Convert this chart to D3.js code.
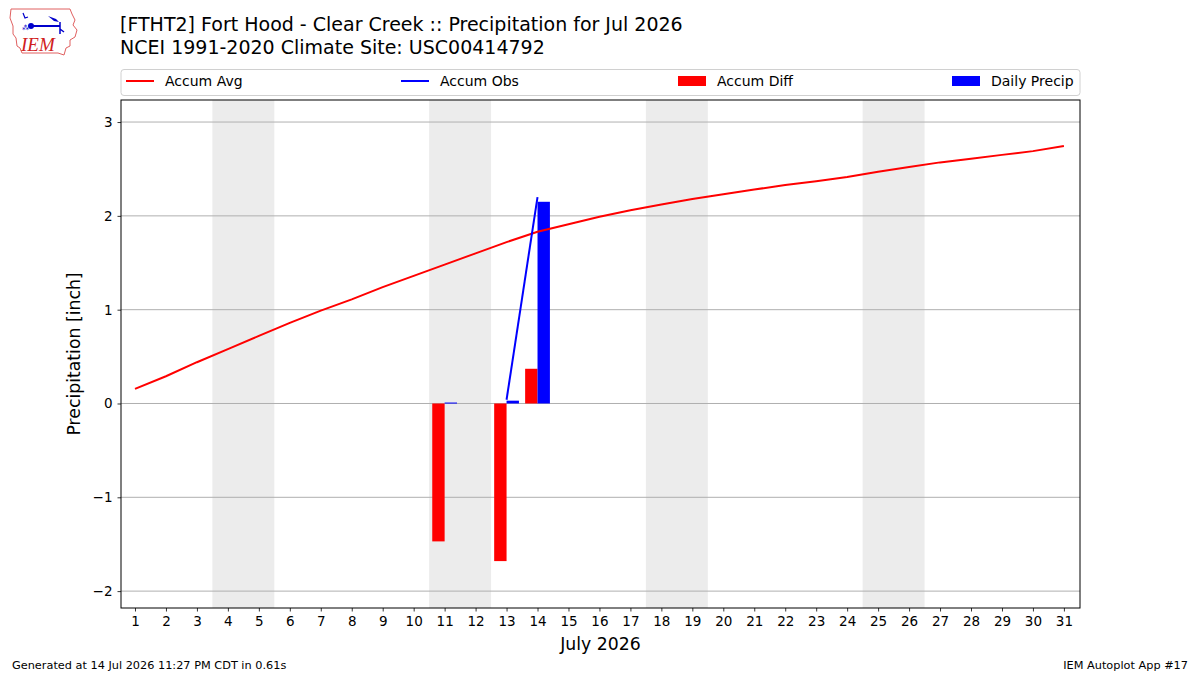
<!DOCTYPE html>
<html><head><meta charset="utf-8">
<script src="https://cdn.jsdelivr.net/npm/d3@7"></script>
<style>body{margin:0;background:#fff}svg{display:block;font-family:"DejaVu Sans",sans-serif}</style>
</head><body><svg id="c" width="1200" height="675"></svg>
<script>
const days = d3.range(1, 32);
const accumAvg = [0.155,0.29,0.44,0.58,0.72,0.86,0.99,1.11,1.24,1.36,1.48,1.60,1.72,1.83,1.91,1.99,2.06,2.12,2.18,2.23,2.28,2.33,2.37,2.415,2.47,2.52,2.57,2.61,2.65,2.69,2.745];
const obsDays = [11,12,13,14];
const accumObs = [0.01,null,0.04,2.20];
const diffDays = [11,13,14];
const accumDiff = [-1.47,-1.68,0.37];
const precipDays = [11,13,14];
const dailyPrecip = [0.01,0.03,2.15];
const weekends = [[3.5,5.5],[10.5,12.5],[17.5,19.5],[24.5,26.5]];
const yTicks = [-2,-1,0,1,2,3];
const legendItems = [
  {label:"Accum Avg", type:"line", color:"#ff0000", x:126},
  {label:"Accum Obs", type:"line", color:"#0000ff", x:401},
  {label:"Accum Diff", type:"rect", color:"#ff0000", x:678},
  {label:"Daily Precip", type:"rect", color:"#0000ff", x:952}
];

const svg = d3.select("#c");
const L=121,R=1080,T=100,B=608;
const x = d3.scaleLinear().domain([0.548,31.52]).range([L,R]);
const y = d3.scaleLinear().domain([-2.18,3.235]).range([B,T]);

// logo
const logo = svg.append("g");
logo.append("path").attr("d","M11,9 L70,9 L72,14 L75,20 L73,25 L77,30 L75,37 L70,40 L70,46 L66,48 L64,55 L58,53 L22,53 L20,48 L17,46 L16,38 L13,34 L13,26 L10,18 Z")
  .attr("fill","none").attr("stroke","#e06060").attr("stroke-width",1);
logo.append("line").attr("x1",31).attr("y1",26).attr("x2",60).attr("y2",26).attr("stroke","#0000cc").attr("stroke-width",2);
logo.append("circle").attr("cx",31).attr("cy",26).attr("r",3).attr("fill","#0000cc");
logo.append("path").attr("d","M48,16 L56,19 L59,22 L54,21 Z").attr("fill","#0000cc");
logo.append("path").attr("d","M60,22 L60,34 M60,29 L64,32").attr("stroke","#0000cc").attr("stroke-width",1.5).attr("fill","none");
logo.append("path").attr("d","M23,13 L25,18 L28,17").attr("stroke","#0000cc").attr("stroke-width",1.2).attr("fill","none");
logo.append("text").attr("x",22).attr("y",30).attr("font-size",7).attr("fill","#0000cc").text("⁂");
logo.append("text").attr("x",21).attr("y",51).attr("font-family","Liberation Serif, serif").attr("font-style","italic")
  .attr("font-size",19).attr("fill","#d02020").text("IEM");

// titles
svg.append("text").attr("x",120).attr("y",31).attr("font-size",19).attr("fill","#000").text("[FTHT2] Fort Hood - Clear Creek :: Precipitation for Jul 2026");
svg.append("text").attr("x",120).attr("y",54).attr("font-size",19).attr("fill","#000").text("NCEI 1991-2020 Climate Site: USC00414792");

// weekends
svg.append("g").selectAll("rect").data(weekends).join("rect")
  .attr("x",d=>x(d[0])).attr("width",d=>x(d[1])-x(d[0])).attr("y",T).attr("height",B-T).attr("fill","#ececec");

// grid
svg.append("g").selectAll("line").data(yTicks).join("line")
  .attr("x1",L).attr("x2",R).attr("y1",d=>y(d)).attr("y2",d=>y(d)).attr("stroke","#b0b0b0").attr("stroke-width",1);

// bars
svg.append("g").selectAll("rect").data(diffDays.map((d,i)=>[d,accumDiff[i]])).join("rect")
  .attr("x",d=>x(d[0]-0.4)).attr("width",d=>x(d[0])-x(d[0]-0.4))
  .attr("y",d=>y(Math.max(0,d[1]))).attr("height",d=>Math.abs(y(d[1])-y(0))).attr("fill","#ff0000");
svg.append("g").selectAll("rect").data(precipDays.map((d,i)=>[d,dailyPrecip[i]])).join("rect")
  .attr("x",d=>x(d[0])).attr("width",d=>x(d[0]+0.4)-x(d[0]))
  .attr("y",d=>y(Math.max(0,d[1]))).attr("height",d=>Math.max(1,Math.abs(y(d[1])-y(0)))).attr("fill","#0000ff");

// lines
svg.append("path").datum(days.map((d,i)=>[d,accumAvg[i]]))
  .attr("d",d3.line().x(d=>x(d[0])).y(d=>y(d[1]))).attr("fill","none").attr("stroke","#ff0000").attr("stroke-width",2);
svg.append("path").datum(obsDays.map((d,i)=>[d,accumObs[i]]))
  .attr("d",d3.line().defined(d=>d[1]!=null).x(d=>x(d[0])).y(d=>y(d[1]))).attr("fill","none").attr("stroke","#0000ff").attr("stroke-width",2);

// axes
const ya = svg.append("g").attr("transform",`translate(${L},0)`).call(d3.axisLeft(y).tickValues(yTicks).tickSize(3.5).tickPadding(5).tickFormat(d=>d<0?"\u2212"+Math.abs(d):d));
const xa = svg.append("g").attr("transform",`translate(0,${B})`).call(d3.axisBottom(x).tickValues(days).tickSize(3.5).tickPadding(5).tickFormat(d3.format("d")));
[ya,xa].forEach(a=>{a.select(".domain").remove();a.selectAll("text").attr("font-size",13.5).attr("font-family","DejaVu Sans").attr("fill","#000");a.selectAll("line").attr("stroke","#000").attr("stroke-width",0.8);});
svg.append("rect").attr("x",L).attr("y",T).attr("width",R-L).attr("height",B-T).attr("fill","none").attr("stroke","#000").attr("stroke-width",1);

svg.append("text").attr("transform",`translate(80,${(T+B)/2}) rotate(-90)`).attr("text-anchor","middle").attr("font-size",17.3).text("Precipitation [inch]");
svg.append("text").attr("x",(L+R)/2).attr("y",650).attr("text-anchor","middle").attr("font-size",17.3).text("July 2026");

// legend
svg.append("rect").attr("x",121).attr("y",69.5).attr("width",959).attr("height",26).attr("rx",3).attr("fill","#fff").attr("stroke","#d0d0d0");
const lg = svg.append("g").selectAll("g").data(legendItems).join("g");
lg.filter(d=>d.type==="line").append("line").attr("x1",d=>d.x).attr("x2",d=>d.x+28).attr("y1",81).attr("y2",81).attr("stroke",d=>d.color).attr("stroke-width",2);
lg.filter(d=>d.type==="rect").append("rect").attr("x",d=>d.x).attr("y",76).attr("width",28).attr("height",10).attr("fill",d=>d.color);
lg.append("text").attr("x",d=>d.x+39).attr("y",86).attr("font-size",14).text(d=>d.label);

// footer
svg.append("text").attr("x",12).attr("y",669).attr("font-size",11.3).text("Generated at 14 Jul 2026 11:27 PM CDT in 0.61s");
svg.append("text").attr("x",1188).attr("y",669).attr("text-anchor","end").attr("font-size",11.3).text("IEM Autoplot App #17");
</script></body></html>
